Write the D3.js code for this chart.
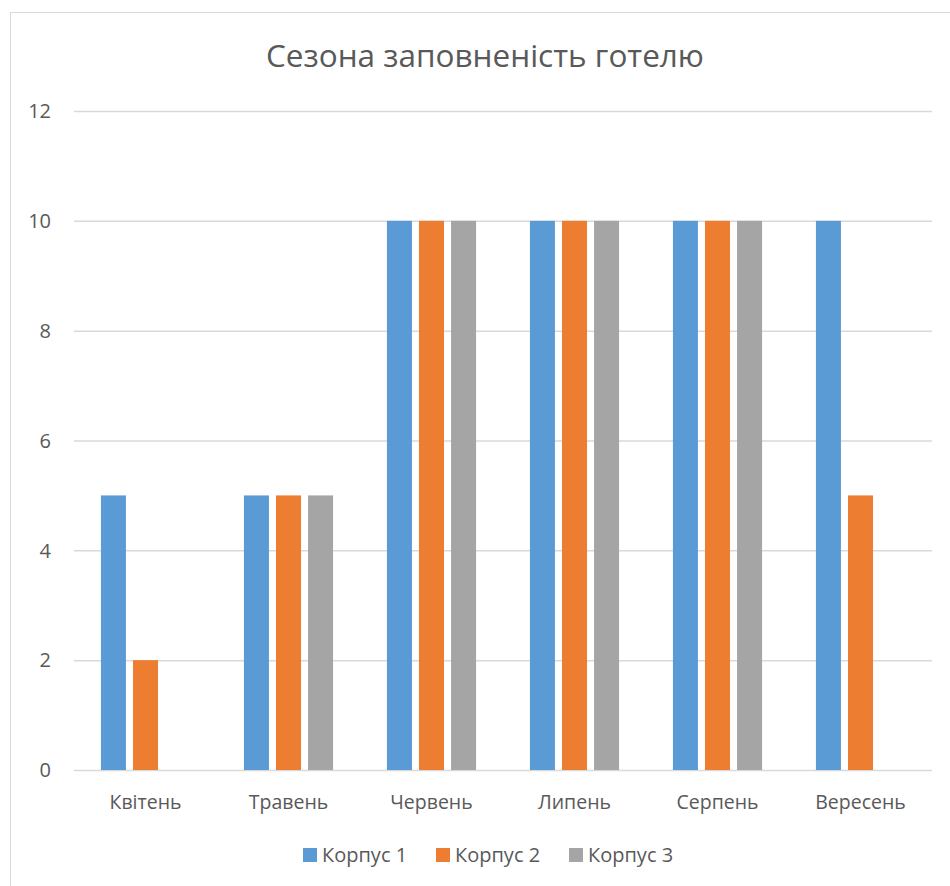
<!DOCTYPE html>
<html>
<head>
<meta charset="utf-8">
<script src="https://cdn.jsdelivr.net/npm/d3@7"></script>
<style>
  body { margin: 0; background: #fff; }
  text { font-family: "Open Sans", "Liberation Sans", sans-serif; fill: #595959; }
</style>
</head>
<body>
<div id="chart"></div>
<script>
// Chart data
const months = ["Квітень", "Травень", "Червень", "Липень", "Серпень", "Вересень"];
const seriesNames = ["Корпус 1", "Корпус 2", "Корпус 3"];
const korpus1 = [5, 5, 10, 10, 10, 10];
const korpus2 = [2, 5, 10, 10, 10, 5];
const korpus3 = [0, 5, 10, 10, 10, 0];
const yTicks = [0, 2, 4, 6, 8, 10, 12];
const colors = ["#5B9BD5", "#ED7D31", "#A5A5A5"];

const seriesValues = [korpus1, korpus2, korpus3];

const W = 950, H = 886;
const margin = { top: 111, right: 18, bottom: 116, left: 74 },
      width = W - margin.left - margin.right,
      height = H - margin.top - margin.bottom;

const root = d3.select("#chart").append("svg")
    .attr("width", W)
    .attr("height", H);

// outer chart border (only top and left are visible in the picture)
root.append("rect")
    .attr("x", 10.5)
    .attr("y", 12.5)
    .attr("width", 960)
    .attr("height", 900)
    .attr("fill", "none")
    .attr("stroke", "#D9D9D9");

const svg = root.append("g")
    .attr("transform", `translate(${margin.left},${margin.top})`);

const x0 = d3.scaleBand()
    .domain(months)
    .range([0, width]);

const x1 = d3.scaleBand()
    .domain(seriesNames)
    .range([0, x0.bandwidth()])
    .paddingInner(0.22)
    .paddingOuter(0.84);

const y = d3.scaleLinear()
    .domain([0, 12])
    .range([height, 0]);

// gridlines
svg.append("g")
    .selectAll("line")
    .data(yTicks)
    .enter()
    .append("line")
      .attr("x1", 0)
      .attr("x2", width)
      .attr("y1", d => y(d) + 0.5)
      .attr("y2", d => y(d) + 0.5)
      .attr("stroke", "#D9D9D9")
      .attr("stroke-width", 1.5);

// y tick labels
svg.append("g")
    .selectAll("text")
    .data(yTicks)
    .enter()
    .append("text")
      .attr("x", -23)
      .attr("y", d => y(d))
      .attr("dy", "0.36em")
      .attr("text-anchor", "end")
      .style("font-size", "20px")
      .text(d => d);

// bars
const groups = svg.append("g")
    .selectAll("g")
    .data(months)
    .enter()
    .append("g")
      .attr("transform", d => `translate(${x0(d)},0)`);

groups.selectAll("rect")
    .data((m, i) => seriesNames.map((s, j) => ({ s: s, j: j, v: seriesValues[j][i] })))
    .enter()
    .append("rect")
      .attr("x", d => x1(d.s))
      .attr("width", x1.bandwidth())
      .attr("y", d => y(d.v))
      .attr("height", d => height - y(d.v))
      .attr("fill", d => colors[d.j]);

// x labels
svg.append("g")
    .selectAll("text")
    .data(months)
    .enter()
    .append("text")
      .attr("x", d => x0(d) + x0.bandwidth() / 2)
      .attr("y", height + 39)
      .attr("text-anchor", "middle")
      .style("font-size", "19.5px")
      .text(d => d);

// title
root.append("text")
    .attr("x", 485)
    .attr("y", 67)
    .attr("text-anchor", "middle")
    .style("font-size", "31.5px")
    .text("Сезона заповненість готелю");

// legend
const legendX = [303, 436, 569];
const legend = root.append("g");
seriesNames.forEach((s, i) => {
    legend.append("rect")
        .attr("x", legendX[i])
        .attr("y", 848)
        .attr("width", 14)
        .attr("height", 14)
        .attr("fill", colors[i]);
    legend.append("text")
        .attr("x", legendX[i] + 19)
        .attr("y", 862)
        .style("font-size", "20px")
        .text(s);
});
</script>
</body>
</html>
